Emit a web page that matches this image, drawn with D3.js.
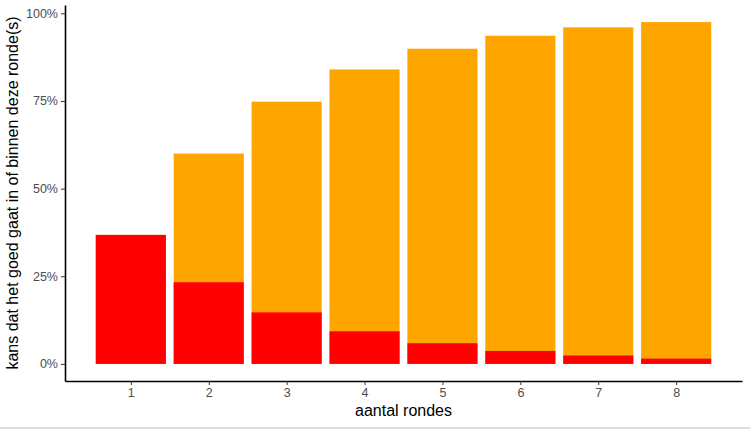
<!DOCTYPE html>
<html>
<head>
<meta charset="utf-8">
<script src="https://cdn.jsdelivr.net/npm/d3@7"></script>
<style>
  body { margin: 0; background: #fff; }
  text { font-family: "Liberation Sans", Arial, sans-serif; }
</style>
</head>
<body>
<div id="chart"></div>
<script>
const rounds = [1, 2, 3, 4, 5, 6, 7, 8];
const kansInRonde = [0.368, 0.233, 0.147, 0.093, 0.059, 0.037, 0.024, 0.015];
const kansBinnen = [0.368, 0.600, 0.748, 0.840, 0.899, 0.936, 0.960, 0.975];
const yTicks = [0, 0.25, 0.5, 0.75, 1];

const fullWidth = 750;
const fullHeight = 430;
const panel = { left: 65, right: 742, top: 5, bottom: 381 };

const svg = d3.select('#chart')
  .append('svg')
  .attr('width', fullWidth)
  .attr('height', fullHeight);

// continuous x like ggplot: bars of width 0.9 plus 5% expansion
const xMin = 0.55, xMax = 8.45, xPad = (xMax - xMin) * 0.05;
const xScale = d3.scaleLinear()
  .domain([xMin - xPad, xMax + xPad])
  .range([panel.left, panel.right]);

const yMax = d3.max(kansBinnen), yPad = yMax * 0.05;
const yScale = d3.scaleLinear()
  .domain([-yPad, yMax + yPad])
  .range([panel.bottom, panel.top]);

const barW = 0.9;

svg.append('g')
  .selectAll('rect')
  .data(rounds)
  .enter()
  .append('rect')
  .attr('x', (d) => xScale(d - barW / 2))
  .attr('width', (d) => xScale(d + barW / 2) - xScale(d - barW / 2))
  .attr('y', (d, i) => yScale(kansBinnen[i]))
  .attr('height', (d, i) => yScale(0) - yScale(kansBinnen[i]))
  .attr('fill', '#ffa500');

svg.append('g')
  .selectAll('rect')
  .data(rounds)
  .enter()
  .append('rect')
  .attr('x', (d) => xScale(d - barW / 2))
  .attr('width', (d) => xScale(d + barW / 2) - xScale(d - barW / 2))
  .attr('y', (d, i) => yScale(kansInRonde[i]))
  .attr('height', (d, i) => yScale(0) - yScale(kansInRonde[i]))
  .attr('fill', '#ff0000');

// axes
const xAxis = d3.axisBottom(xScale)
  .tickValues(rounds)
  .tickFormat(d3.format('d'))
  .tickSize(4)
  .tickSizeOuter(0)
  .tickPadding(3);

const gx = svg.append('g')
  .attr('transform', `translate(0, ${panel.bottom})`)
  .call(xAxis);

const yAxis = d3.axisLeft(yScale)
  .tickValues(yTicks)
  .tickFormat(d3.format('.0%'))
  .tickSize(4)
  .tickSizeOuter(0)
  .tickPadding(3);

const gy = svg.append('g')
  .attr('transform', `translate(${panel.left}, 0)`)
  .call(yAxis);

[gx, gy].forEach((g) => {
  g.select('.domain').attr('stroke', '#000').attr('stroke-width', 1.6);
  g.selectAll('.tick line').attr('stroke', '#333').attr('stroke-width', 1);
  g.selectAll('.tick text')
    .attr('fill', '#4d4d4d')
    .style('font-size', '12.5px');
});

svg.append('text')
  .attr('x', (panel.left + panel.right) / 2)
  .attr('y', 416)
  .attr('text-anchor', 'middle')
  .style('font-size', '16px')
  .attr('fill', '#000')
  .text('aantal rondes');

svg.append('text')
  .attr('transform', `translate(18, ${(panel.top + panel.bottom) / 2}) rotate(-90)`)
  .attr('text-anchor', 'middle')
  .style('font-size', '16px')
  .attr('fill', '#000')
  .text('kans dat het goed gaat in of binnen deze ronde(s)');

// thin grey border at the bottom of the picture
svg.append('line')
  .attr('x1', 0).attr('x2', fullWidth)
  .attr('y1', 428).attr('y2', 428)
  .attr('stroke', '#bbb')
  .attr('stroke-width', 1);
</script>
</body>
</html>
